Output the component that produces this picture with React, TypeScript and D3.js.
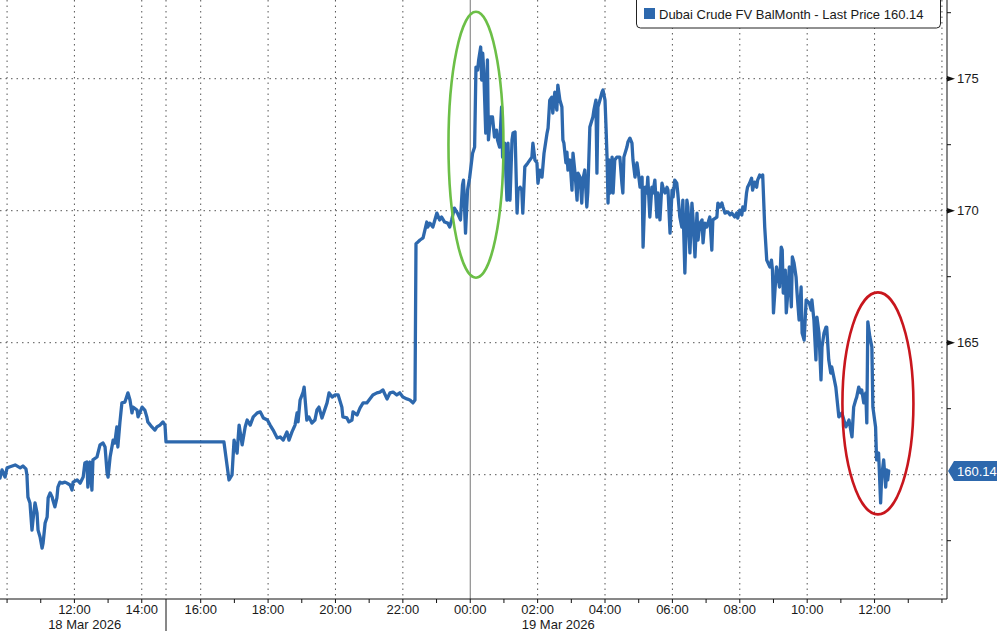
import React from "react";
import * as d3 from "d3";

// time = hours since 18 Mar 2026 00:00, value = price
const session18A: [number, number][] = [
  [9.79, 159.87], [9.85, 160.18], [9.94, 159.91], [10.0, 160.26], [10.09, 160.3], [10.24, 160.37],
  [10.39, 160.26], [10.47, 160.33], [10.56, 160.22], [10.59, 159.99], [10.62, 159.15], [10.68, 158.93],
  [10.74, 157.9], [10.77, 158.28], [10.83, 158.93], [10.89, 158.55], [10.92, 157.9], [10.98, 157.64],
  [11.04, 157.22], [11.07, 157.41], [11.13, 158.17], [11.19, 158.4], [11.22, 159.12], [11.28, 159.31],
  [11.34, 159.15], [11.36, 159.04], [11.42, 158.78], [11.48, 159.12], [11.51, 159.53], [11.57, 159.72],
  [11.63, 159.68], [11.72, 159.72], [11.78, 159.68], [11.87, 159.61], [11.93, 159.42], [11.96, 159.72],
  [12.08, 159.8], [12.17, 159.68], [12.26, 159.91], [12.31, 160.44], [12.37, 160.48], [12.4, 159.53],
  [12.46, 160.48], [12.52, 159.42], [12.55, 160.56], [12.67, 160.67], [12.76, 161.13], [12.85, 161.2],
  [12.91, 161.05], [12.97, 160.07], [13.0, 159.91], [13.06, 160.67], [13.15, 161.31], [13.2, 161.2],
  [13.26, 161.81], [13.29, 161.05], [13.35, 161.96], [13.41, 162.72], [13.5, 162.75], [13.59, 163.1],
  [13.65, 162.83], [13.71, 162.34], [13.74, 162.56], [13.86, 162.45], [13.89, 162.19], [14.01, 162.56],
  [14.09, 162.45], [14.15, 162.19], [14.18, 162.0], [14.3, 161.81], [14.39, 161.69], [14.45, 161.81],
  [14.54, 161.88], [14.63, 162.0], [14.69, 161.88], [14.72, 161.24],
];

const session18B: [number, number][] = [
  [15.0, 161.24], [16.69, 161.24], [16.84, 159.8], [16.93, 159.99], [16.99, 161.31], [17.08, 160.82],
  [17.14, 161.88], [17.23, 161.13], [17.32, 161.81], [17.38, 162.07], [17.47, 161.88], [17.56, 162.19],
  [17.68, 162.34], [17.77, 162.38], [17.86, 162.15], [17.98, 162.07], [18.06, 161.88], [18.15, 161.69],
  [18.27, 161.39], [18.36, 161.43], [18.45, 161.31], [18.56, 161.62], [18.62, 161.31], [18.71, 161.62],
  [18.8, 161.88], [18.86, 162.34], [18.89, 162.0], [18.95, 162.83], [19.04, 163.13], [19.07, 163.32],
  [19.15, 162.07], [19.21, 162.19], [19.3, 161.96], [19.39, 162.07], [19.45, 162.45], [19.51, 162.56],
  [19.6, 162.15], [19.66, 162.38], [19.75, 162.72], [19.81, 163.1], [19.9, 162.94], [19.99, 163.02],
  [20.08, 163.02], [20.19, 162.56], [20.22, 162.19], [20.34, 162.15], [20.4, 162.0], [20.49, 162.07],
  [20.52, 162.38], [20.64, 162.26], [20.73, 162.53], [20.82, 162.72], [20.93, 162.72], [21.02, 162.87],
  [21.11, 163.02], [21.23, 163.1], [21.32, 163.13], [21.41, 163.21], [21.53, 162.87], [21.62, 163.1],
  [21.71, 163.13], [21.82, 163.02], [21.91, 163.1], [22.0, 162.94], [22.12, 162.87], [22.21, 162.83],
  [22.3, 162.72], [22.36, 162.83],
];

const overnight: [number, number][] = [
  [22.39, 168.75], [22.42, 168.78], [22.51, 168.89], [22.6, 168.97], [22.71, 169.57], [22.74, 169.38],
  [22.8, 169.53], [22.89, 169.38], [23.01, 169.91], [23.09, 169.65], [23.15, 169.76], [23.24, 169.57],
  [23.33, 169.53], [23.39, 169.38], [23.45, 169.65], [23.53, 170.1], [23.62, 169.91], [23.71, 169.65],
  [23.77, 170.97], [23.8, 171.16], [23.86, 169.15], [23.92, 170.78], [23.98, 171.23], [24.07, 172.18],
  [24.13, 172.41], [24.17, 175.44], [24.22, 175.33], [24.25, 175.71], [24.31, 176.2], [24.34, 174.95],
  [24.37, 175.97], [24.4, 175.33], [24.46, 172.94], [24.51, 175.71], [24.54, 172.68], [24.6, 173.55],
  [24.66, 173.55], [24.72, 172.79], [24.78, 173.05], [24.81, 172.68], [24.87, 172.41], [24.93, 173.93],
  [24.96, 172.03], [25.02, 172.56], [25.09, 170.4], [25.12, 172.56], [25.18, 170.4], [25.24, 172.68],
  [25.27, 172.94], [25.33, 172.98], [25.39, 169.91], [25.42, 170.78], [25.48, 170.89], [25.53, 170.78],
  [25.56, 169.91], [25.62, 171.66], [25.71, 171.81], [25.83, 172.03], [25.86, 172.56], [25.92, 171.92],
  [25.98, 171.81], [26.01, 171.04], [26.07, 171.54], [26.13, 171.27], [26.19, 172.18], [26.28, 172.94],
  [26.31, 173.13], [26.36, 174.19], [26.42, 174.3], [26.45, 173.7], [26.51, 174.49], [26.57, 173.81],
  [26.6, 174.76], [26.66, 174.19], [26.72, 173.93], [26.75, 172.68], [26.78, 172.56], [26.84, 171.81],
  [26.87, 172.22], [26.9, 171.54], [26.96, 171.92], [27.02, 170.78], [27.05, 172.18], [27.11, 171.42],
  [27.17, 170.4], [27.2, 171.42], [27.26, 171.27], [27.31, 170.29], [27.34, 171.16], [27.4, 171.54],
  [27.46, 170.14], [27.49, 170.71], [27.55, 173.17], [27.64, 173.55], [27.67, 173.81], [27.73, 174.19],
  [27.76, 171.42], [27.79, 173.93], [27.85, 174.19], [27.91, 174.49], [27.94, 174.57], [28.0, 174.19],
];

const morning19: [number, number][] = [
  [28.03, 173.17], [28.06, 172.03], [28.09, 170.29], [28.12, 171.92], [28.15, 170.67], [28.21, 172.03],
  [28.24, 170.67], [28.29, 171.92], [28.35, 172.03], [28.44, 172.03], [28.5, 171.04], [28.53, 170.67],
  [28.56, 172.03], [28.65, 172.41], [28.68, 172.6], [28.74, 172.75], [28.8, 172.56], [28.83, 171.92],
  [28.89, 171.27], [28.95, 171.81], [28.98, 171.54], [29.04, 170.89], [29.1, 171.27], [29.13, 168.62],
  [29.19, 170.89], [29.24, 170.67], [29.27, 171.27], [29.33, 169.76], [29.39, 170.89], [29.42, 170.67],
  [29.48, 171.16], [29.54, 169.76], [29.57, 170.67], [29.63, 169.65], [29.69, 171.04], [29.72, 170.89],
  [29.78, 170.67], [29.84, 170.89], [29.87, 170.78], [29.93, 169.15], [29.99, 170.78], [30.02, 170.52],
  [30.07, 171.16], [30.13, 171.04], [30.16, 170.67], [30.22, 169.76], [30.28, 169.38], [30.31, 170.4],
  [30.37, 167.64], [30.43, 170.4], [30.46, 170.14], [30.52, 168.4], [30.58, 170.29], [30.61, 169.76],
  [30.67, 168.25], [30.73, 169.91], [30.76, 168.89], [30.82, 169.53], [30.88, 169.65], [30.91, 168.78],
  [30.96, 169.53], [31.02, 169.38], [31.11, 169.76], [31.17, 168.51], [31.2, 169.65], [31.32, 169.76],
  [31.35, 170.29], [31.41, 170.14], [31.47, 170.29], [31.5, 170.14], [31.56, 169.91], [31.65, 169.95],
  [31.71, 169.84], [31.76, 169.91], [31.85, 169.76], [31.91, 169.91], [31.94, 169.72], [32.0, 170.02],
  [32.06, 169.84], [32.09, 170.14], [32.15, 170.02], [32.2, 170.67], [32.23, 170.89], [32.29, 171.04],
  [32.35, 171.23], [32.38, 170.78], [32.44, 171.08], [32.5, 170.89], [32.53, 171.16], [32.59, 171.35],
  [32.65, 171.27], [32.68, 171.35],
];

const selloff19: [number, number][] = [
  [32.74, 169.38], [32.8, 168.13], [32.89, 167.87], [32.94, 168.13], [32.97, 167.75], [33.0, 166.13],
  [33.09, 167.87], [33.12, 167.64], [33.18, 167.11], [33.23, 168.62], [33.26, 168.51], [33.29, 166.88],
  [33.35, 167.75], [33.38, 166.13], [33.41, 166.62], [33.47, 167.87], [33.53, 166.36], [33.56, 168.25],
  [33.61, 168.02], [33.67, 167.49], [33.7, 166.88], [33.76, 165.86], [33.82, 167.11], [33.85, 165.37],
  [33.91, 165.1], [33.97, 166.62], [34.06, 166.51], [34.12, 166.24], [34.14, 166.62], [34.2, 165.86],
  [34.26, 164.35], [34.29, 165.97], [34.35, 165.37], [34.41, 163.59], [34.44, 164.84], [34.5, 165.37],
  [34.56, 165.59], [34.58, 165.59], [34.64, 164.35], [34.7, 163.85], [34.73, 164.08], [34.85, 163.32],
  [34.94, 162.19], [35.03, 162.34], [35.15, 161.81], [35.24, 162.07], [35.33, 161.43], [35.38, 162.56],
  [35.44, 162.83], [35.47, 162.94], [35.53, 163.32], [35.59, 163.1], [35.62, 163.21], [35.68, 162.72],
  [35.74, 163.1], [35.77, 161.96], [35.8, 165.79], [35.86, 165.22], [35.92, 164.84], [35.95, 162.56],
  [36.03, 161.81], [36.06, 160.56], [36.12, 160.82], [36.18, 158.93], [36.21, 159.91], [36.27, 160.56],
  [36.33, 159.53], [36.36, 160.18], [36.39, 159.8], [36.42, 160.14],
];

const yTickValues = [160, 165, 170, 175];
const yMinorValues = [157.5, 162.5, 167.5, 172.5, 177.5];
const xLabelHours = [12, 14, 16, 18, 20, 22, 24, 26, 28, 30, 32, 34, 36];
const xGridHours = [10, 12, 14, 16, 18, 20, 22, 26, 28, 30, 32, 34, 36, 38];
const xTickHours = [10, 11, 12, 13, 14, 16, 17, 18, 19, 20, 21, 22, 23, 24, 25, 26, 27, 28, 29, 30, 31, 32, 33, 34, 35, 36, 37, 38];
const dateLabels: [number, string][] = [[11.22, "18 Mar 2026"], [25.53, "19 Mar 2026"]];
const sessionBreak = 14.72;
const midnight = 24;
const lastPrice = 160.14;
const legendText = "Dubai Crude FV BalMonth - Last Price 160.14";

const W = 997;
const H = 631;
const axisX = 947;
const axisY = 599;
const BLUE = "#2d68ad";
const FONT = "'Liberation Sans', Arial, sans-serif";

export default function App() {
  const x = d3.scaleLinear().domain([9.79, 14.72, 15.0, 38.15]).range([0, 166, 167, axisX]);
  const y = d3.scaleLinear().domain([160, 175]).range([474.7, 78.7]);
  const line = d3
    .line<[number, number]>()
    .x((d) => x(d[0]))
    .y((d) => y(d[1]));
  const all = [...session18A, ...session18B, ...overnight, ...morning19, ...selloff19];
  const path = line(all) || "";
  const fmt = (h: number) => `${String(h % 24).padStart(2, "0")}:00`;
  const yl = y(lastPrice);
  // tick labels hidden behind the last-price tag are not shown
  const visibleYTicks = yTickValues.filter((v) => Math.abs(y(v) - yl) > 14);

  return (
    <svg
      width={W}
      height={H}
      style={{ position: "fixed", left: 0, top: 0, background: "#fff" }}
      fontFamily={FONT}
    >
      <rect x={0} y={0} width={W} height={H} fill="#fff" />
      {/* horizontal grid */}
      {yTickValues.map((v) => (
        <line key={"hg" + v} x1={0} x2={axisX} y1={y(v)} y2={y(v)} stroke="#555" strokeWidth={1} strokeDasharray="1.5,4" />
      ))}
      {/* vertical grid */}
      {xGridHours.map((h) => (
        <line key={"vg" + h} x1={x(h)} x2={x(h)} y1={0} y2={axisY} stroke="#555" strokeWidth={1} strokeDasharray="1.5,4" />
      ))}
      <line x1={x(sessionBreak)} x2={x(sessionBreak)} y1={0} y2={axisY} stroke="#555" strokeWidth={1} strokeDasharray="1.5,4" />
      <line x1={x(sessionBreak)} x2={x(sessionBreak)} y1={axisY} y2={H} stroke="#111" strokeWidth={1} />
      <line x1={x(midnight)} x2={x(midnight)} y1={0} y2={axisY} stroke="#777" strokeWidth={1} />

      {/* series */}
      <path d={path} fill="none" stroke={BLUE} strokeWidth={3.3} strokeLinejoin="round" strokeLinecap="round" />

      {/* annotation ellipses */}
      <ellipse cx={x(24.17)} cy={y(172.5)} rx={27.5} ry={133} fill="none" stroke="#6cbf47" strokeWidth={2.6} />
      <ellipse cx={x(36.1)} cy={y(162.7)} rx={35.5} ry={111} fill="none" stroke="#c8161d" strokeWidth={2.6} />

      {/* axes */}
      <line x1={0} x2={axisX} y1={axisY} y2={axisY} stroke="#111" strokeWidth={1} />
      <line x1={axisX} x2={axisX} y1={0} y2={axisY} stroke="#111" strokeWidth={1} />
      {xTickHours.map((h) => (
        <line key={"xt" + h} x1={x(h)} x2={x(h)} y1={axisY} y2={axisY + 4} stroke="#111" strokeWidth={1} />
      ))}
      {xLabelHours.map((h) => (
        <text key={"xl" + h} x={x(h)} y={614} textAnchor="middle" fontSize={13} fill="#1a1a1a">
          {fmt(h)}
        </text>
      ))}
      {dateLabels.map(([h, t]) => (
        <text key={t} x={x(h)} y={628.5} textAnchor="start" fontSize={13} fill="#1a1a1a">
          {t}
        </text>
      ))}
      {yMinorValues.map((v) => (
        <line key={"ym" + v} x1={axisX} x2={axisX + 4} y1={y(v)} y2={y(v)} stroke="#111" strokeWidth={1} />
      ))}
      {visibleYTicks.map((v) => (
        <g key={"yt" + v}>
          <path d={`M${axisX},${y(v) - 2.8}L${axisX + 8},${y(v)}L${axisX},${y(v) + 2.8}Z`} fill="#111" />
          <text x={957} y={y(v) + 4.5} fontSize={13} fill="#1a1a1a">
            {v}
          </text>
        </g>
      ))}

      {/* last price tag */}
      <path
        d={`M${axisX + 1},${yl}L${axisX + 7},${yl - 10}L${W},${yl - 10}L${W},${yl + 10}L${axisX + 7},${yl + 10}Z`}
        fill={BLUE}
      />
      <text x={957} y={yl + 4.5} fontSize={13} fill="#fff">
        {lastPrice.toFixed(2)}
      </text>

      {/* legend */}
      <rect x={636.5} y={-6} width={304} height={34} rx={4} fill="#fff" stroke="#222" strokeWidth={1} />
      <rect x={644} y={8} width={11} height={11} fill={BLUE} />
      <text x={659} y={18.5} fontSize={13} fill="#1a1a1a">
        {legendText}
      </text>
    </svg>
  );
}
